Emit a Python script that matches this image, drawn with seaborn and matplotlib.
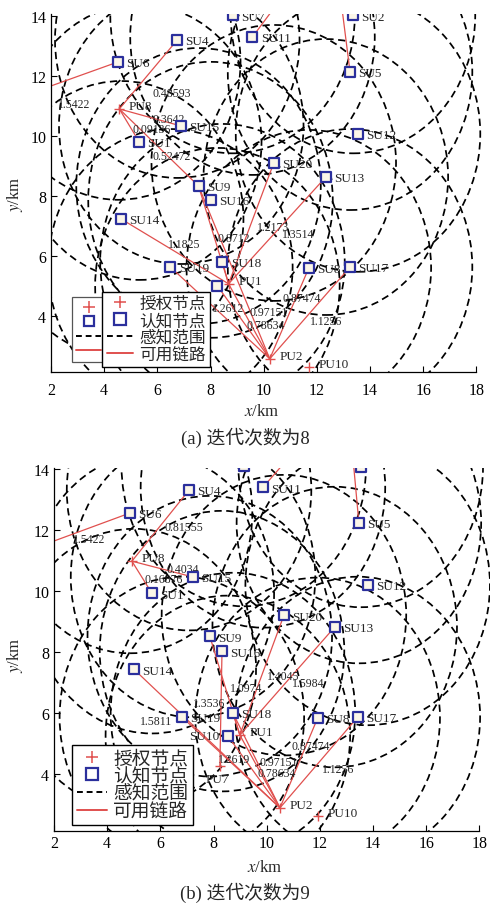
import numpy as np
import pandas as pd
import matplotlib
matplotlib.use("Agg")
import matplotlib.pyplot as plt
import seaborn as sns
from matplotlib.patches import Circle
from matplotlib.lines import Line2D

# ---------------- data ----------------
SENSE_RANGE = 4.6  # km

SU_NAMES = ['SU1', 'SU2', 'SU4', 'SU5', 'SU6', 'SU7', 'SU8', 'SU9', 'SU10', 'SU11',
            'SU12', 'SU13', 'SU14', 'SU15', 'SU16', 'SU17', 'SU18', 'SU19', 'SU20']

# panel (a): iteration 8
A_SU_X = [5.32, 13.36, 6.75, 13.25, 4.53, 8.83, 11.70, 7.55, 8.26, 9.58,
          13.55, 12.34, 4.64, 6.90, 8.00, 13.25, 8.45, 6.49, 10.38]
A_SU_Y = [9.80, 14.02, 13.20, 12.13, 12.47, 14.02, 5.60, 8.33, 5.00, 13.30,
          10.07, 8.63, 7.23, 10.33, 7.87, 5.63, 5.80, 5.63, 9.10]
A_PU_NAMES = ['PU1', 'PU2', 'PU8', 'PU10']
A_PU_X = [8.68, 10.23, 4.57, 11.70]
A_PU_Y = [5.07, 2.57, 10.90, 2.30]
A_EXT_NAMES = ['EXT_L', 'EXT_T1', 'EXT_T2']   # link ends lying outside the view
A_EXT_X = [1.00, 12.84, 11.01]
A_EXT_Y = [11.35, 15.00, 15.00]
A_LINKS = [('EXT_L', 'SU6'), ('PU8', 'SU4'), ('PU8', 'SU15'), ('PU8', 'SU1'), ('PU8', 'SU9'),
           ('SU9', 'PU1'), ('SU20', 'PU1'), ('SU13', 'PU1'), ('SU14', 'PU1'), ('SU18', 'PU1'),
           ('SU9', 'PU2'), ('SU19', 'PU2'), ('SU10', 'PU2'), ('PU1', 'PU2'), ('SU8', 'PU2'),
           ('SU17', 'PU2'), ('SU5', 'EXT_T1'), ('SU11', 'EXT_T2')]
A_LINK_TEXT = ['1.5422', '0.48593', '0.3642', '0.09136', '0.52472', '1.1825', '0.8712',
               '1.2173', '1.3514', '0.87474', '1.1256', '0.97151', '0.78634', '1.2612']
A_LINK_TX = [2.26, 5.80, 5.83, 5.08, 5.83, 6.40, 8.28, 9.74, 10.68, 10.72, 11.74, 9.48, 9.37, 8.05]
A_LINK_TY = [11.07, 11.43, 10.57, 10.23, 9.33, 6.40, 6.60, 6.97, 6.73, 4.60, 3.83, 4.13, 3.70, 4.27]

# panel (b): iteration 9
B_SU_X = [5.68, 13.54, 7.08, 13.47, 4.86, 9.14, 11.92, 7.86, 8.54, 9.86,
          13.80, 12.56, 5.00, 7.23, 8.32, 13.43, 8.73, 6.81, 10.65]
B_SU_Y = [9.93, 14.07, 13.31, 12.23, 12.56, 14.10, 5.84, 8.52, 5.25, 13.40,
          10.20, 8.82, 7.44, 10.46, 8.03, 5.87, 6.00, 5.87, 9.21]
B_PU_NAMES = ['PU1', 'PU2', 'PU7', 'PU8', 'PU10']
B_PU_X = [8.99, 10.50, 8.24, 4.93, 11.92]
B_PU_Y = [5.28, 2.89, 4.26, 10.98, 2.62]
B_EXT_NAMES = ['EXT_L', 'EXT_T1', 'EXT_T2']
B_EXT_X = [1.00, 13.18, 11.46]
B_EXT_Y = [11.32, 15.00, 15.00]
B_LINKS = [('EXT_L', 'SU6'), ('PU8', 'SU4'), ('PU8', 'SU15'), ('PU8', 'SU1'),
           ('SU9', 'PU1'), ('SU16', 'PU7'), ('SU20', 'PU1'), ('SU13', 'PU1'), ('SU18', 'PU1'),
           ('SU18', 'PU2'), ('SU14', 'PU2'), ('SU19', 'PU2'), ('SU10', 'PU2'), ('PU1', 'PU2'),
           ('SU8', 'PU2'), ('SU17', 'PU2'), ('SU5', 'EXT_T1'), ('SU11', 'EXT_T2')]
B_LINK_TEXT = ['1.5422', '0.81555', '0.4034', '0.16876', '1.0974', '1.3536', '1.5811',
               '1.4045', '1.5984', '1.2619', '0.97151', '0.78634', '0.87474', '1.1256']
B_LINK_TX = [2.71, 6.17, 6.25, 5.42, 8.62, 7.23, 5.23, 10.00, 10.95, 8.17, 9.74, 9.67, 10.95, 12.08]
B_LINK_TY = [11.70, 12.10, 10.72, 10.39, 6.82, 6.33, 5.74, 7.21, 6.98, 4.49, 4.39, 4.03, 4.92, 4.16]

X_TICKS = [2, 4, 6, 8, 10, 12, 14, 16, 18]
Y_TICKS = [4, 6, 8, 10, 12, 14]
LEGEND_LABELS = ['授权节点', '认知节点', '感知范围', '可用链路']

# ---------------- style ----------------
sns.set_theme(style="ticks")
plt.rcParams['font.family'] = ['Liberation Serif', 'Noto Sans CJK SC', 'DejaVu Sans']
plt.rcParams['mathtext.fontset'] = 'stix'
plt.rcParams['axes.edgecolor'] = 'black'

RED = '#e0504e'
BLUE = '#2b2f9c'
SQ_FACE = '#fbf6e8'
DASH = (0, (4.2, 2.6))


def legend_handles(scale=1.0):
    return [
        Line2D([], [], ls='none', marker='+', color=RED, ms=9 * scale, mew=1.1),
        Line2D([], [], ls='none', marker='s', mfc='white', mec=BLUE, ms=8 * scale, mew=1.6),
        Line2D([], [], color='black', ls=(0, (3, 2)), lw=1.4),
        Line2D([], [], color=RED, lw=1.4),
    ]


def draw_panel(ax, su_x, su_y, pu_names, pu_x, pu_y, ext_names, ext_x, ext_y,
               links, ltext, ltx, lty, left_label=(), hidden_label=()):
    su = pd.DataFrame({'name': SU_NAMES, 'x': su_x, 'y': su_y})
    pu = pd.DataFrame({'name': pu_names, 'x': pu_x, 'y': pu_y})
    pos = {n: (x, y) for n, x, y in zip(su.name, su.x, su.y)}
    pos.update({n: (x, y) for n, x, y in zip(pu.name, pu.x, pu.y)})
    pos.update({n: (x, y) for n, x, y in zip(ext_names, ext_x, ext_y)})

    # sensing ranges
    for x, y in zip(su.x, su.y):
        ax.add_patch(Circle((x, y), SENSE_RANGE, fill=False, ec='black', lw=1.25,
                            ls=DASH, zorder=1))
    # links
    for a, b in links:
        ax.plot([pos[a][0], pos[b][0]], [pos[a][1], pos[b][1]], color=RED, lw=0.9, zorder=2)
    # nodes
    sns.scatterplot(data=su, x='x', y='y', marker='s', s=46, color=SQ_FACE,
                    edgecolor=BLUE, linewidth=1.6, ax=ax, zorder=4, legend=False)
    sns.scatterplot(data=pu, x='x', y='y', marker='+', s=55, color=RED,
                    linewidth=1.0, ax=ax, zorder=4, legend=False)
    # node names
    for n, x, y in zip(su.name, su.x, su.y):
        if n in hidden_label:
            continue
        if n in left_label:
            ax.annotate(n, (x, y), xytext=(-6, 0), textcoords='offset points', ha='right',
                        va='center', fontsize=9.5, clip_on=True, zorder=3)
        else:
            ax.annotate(n, (x, y), xytext=(6, -1), textcoords='offset points', ha='left',
                        va='center', fontsize=9.5, clip_on=True, zorder=3)
    for n, x, y in zip(pu.name, pu.x, pu.y):
        if n == 'PU7':
            ax.annotate(n, (x, y), xytext=(-10, -9), textcoords='offset points', ha='left',
                        va='center', fontsize=9.5, clip_on=True, zorder=3)
        else:
            ax.annotate(n, (x, y), xytext=(7, 2), textcoords='offset points', ha='left',
                        va='center', fontsize=9.5, clip_on=True, zorder=3)
    # link metrics
    for t, x, y in zip(ltext, ltx, lty):
        ax.text(x, y, t, fontsize=8.5, ha='left', va='center', zorder=3, clip_on=True)

    ax.set_xlim(2, 18.4)
    ax.set_ylim(2.13, 14.05)
    ax.set_xticks(X_TICKS)
    ax.set_yticks(Y_TICKS)
    ax.set_aspect('auto')
    ax.spines[['top', 'right']].set_visible(False)
    ax.spines['bottom'].set_bounds(2, 18)
    for s in ('left', 'bottom'):
        ax.spines[s].set_linewidth(0.9)
    ax.tick_params(direction='in', length=4, width=0.8, labelsize=11.5, colors='black')
    ax.set_xlabel(r'$x$/km', fontsize=12)
    ax.set_ylabel(r'$y$/km', fontsize=12)
    ax.xaxis.label.set_va('center')
    ax.yaxis.label.set_va('center')


fig = plt.figure(figsize=(4.92, 9.04), dpi=100)
ax_a = fig.add_axes([0.1037, 0.5874, 0.886, 0.3955])
ax_b = fig.add_axes([0.1098, 0.0796, 0.886, 0.4021])

draw_panel(ax_a, A_SU_X, A_SU_Y, A_PU_NAMES, A_PU_X, A_PU_Y, A_EXT_NAMES, A_EXT_X, A_EXT_Y,
           A_LINKS, A_LINK_TEXT, A_LINK_TX, A_LINK_TY, hidden_label=('SU10',))
draw_panel(ax_b, B_SU_X, B_SU_Y, B_PU_NAMES, B_PU_X, B_PU_Y, B_EXT_NAMES, B_EXT_X, B_EXT_Y,
           B_LINKS, B_LINK_TEXT, B_LINK_TX, B_LINK_TY, left_label=('SU10',))

ax_a.tick_params(axis='x', pad=7)
ax_b.tick_params(axis='x', pad=3)
ax_a.xaxis.set_label_coords(0.484, -0.108)
ax_a.yaxis.set_label_coords(-0.083, 0.5)
ax_b.xaxis.set_label_coords(0.484, -0.099)
ax_b.yaxis.set_label_coords(-0.089, 0.487)

# panel (a): an older legend box left partly visible behind the current one
# (its texts are covered by the front legend, so blank labels keep its size)
blank = ['\u3000\u3000\u3000\u3000'] * 4
leg_back = ax_a.legend(legend_handles(0.9), blank, loc='lower left',
                       bbox_to_anchor=(0.048, 0.028), borderaxespad=0, fontsize=10,
                       fancybox=False, framealpha=1, edgecolor='#555555', handlelength=1.8,
                       handletextpad=0.6, labelspacing=0.1, borderpad=0.3)
leg_back.get_frame().set_linewidth(0.9)
leg_back.set_zorder(5)
ax_a.add_artist(leg_back)
leg_a = ax_a.legend(legend_handles(), LEGEND_LABELS, loc='lower left',
                    bbox_to_anchor=(0.118, 0.014), borderaxespad=0, fontsize=12,
                    fancybox=False, framealpha=1, edgecolor='black', handlelength=1.6,
                    handletextpad=0.35, labelspacing=0.05, borderpad=0.25)
leg_a.get_frame().set_linewidth(1.0)
leg_a.set_zorder(6)

leg_b = ax_b.legend(legend_handles(), LEGEND_LABELS, loc='lower left',
                    bbox_to_anchor=(0.041, 0.0165), borderaxespad=0, fontsize=13.5,
                    fancybox=False, framealpha=1, edgecolor='black', handlelength=1.6,
                    handletextpad=0.35, labelspacing=0.02, borderpad=0.25)
leg_b.get_frame().set_linewidth(1.0)
leg_b.set_zorder(6)

fig.text(0.498, 1 - 438 / 904, '(a) 迭代次数为8', ha='center', va='center', fontsize=13.5)
fig.text(0.498, 1 - 893 / 904, '(b) 迭代次数为9', ha='center', va='center', fontsize=13.5)

fig.savefig('out.png', dpi=100)
